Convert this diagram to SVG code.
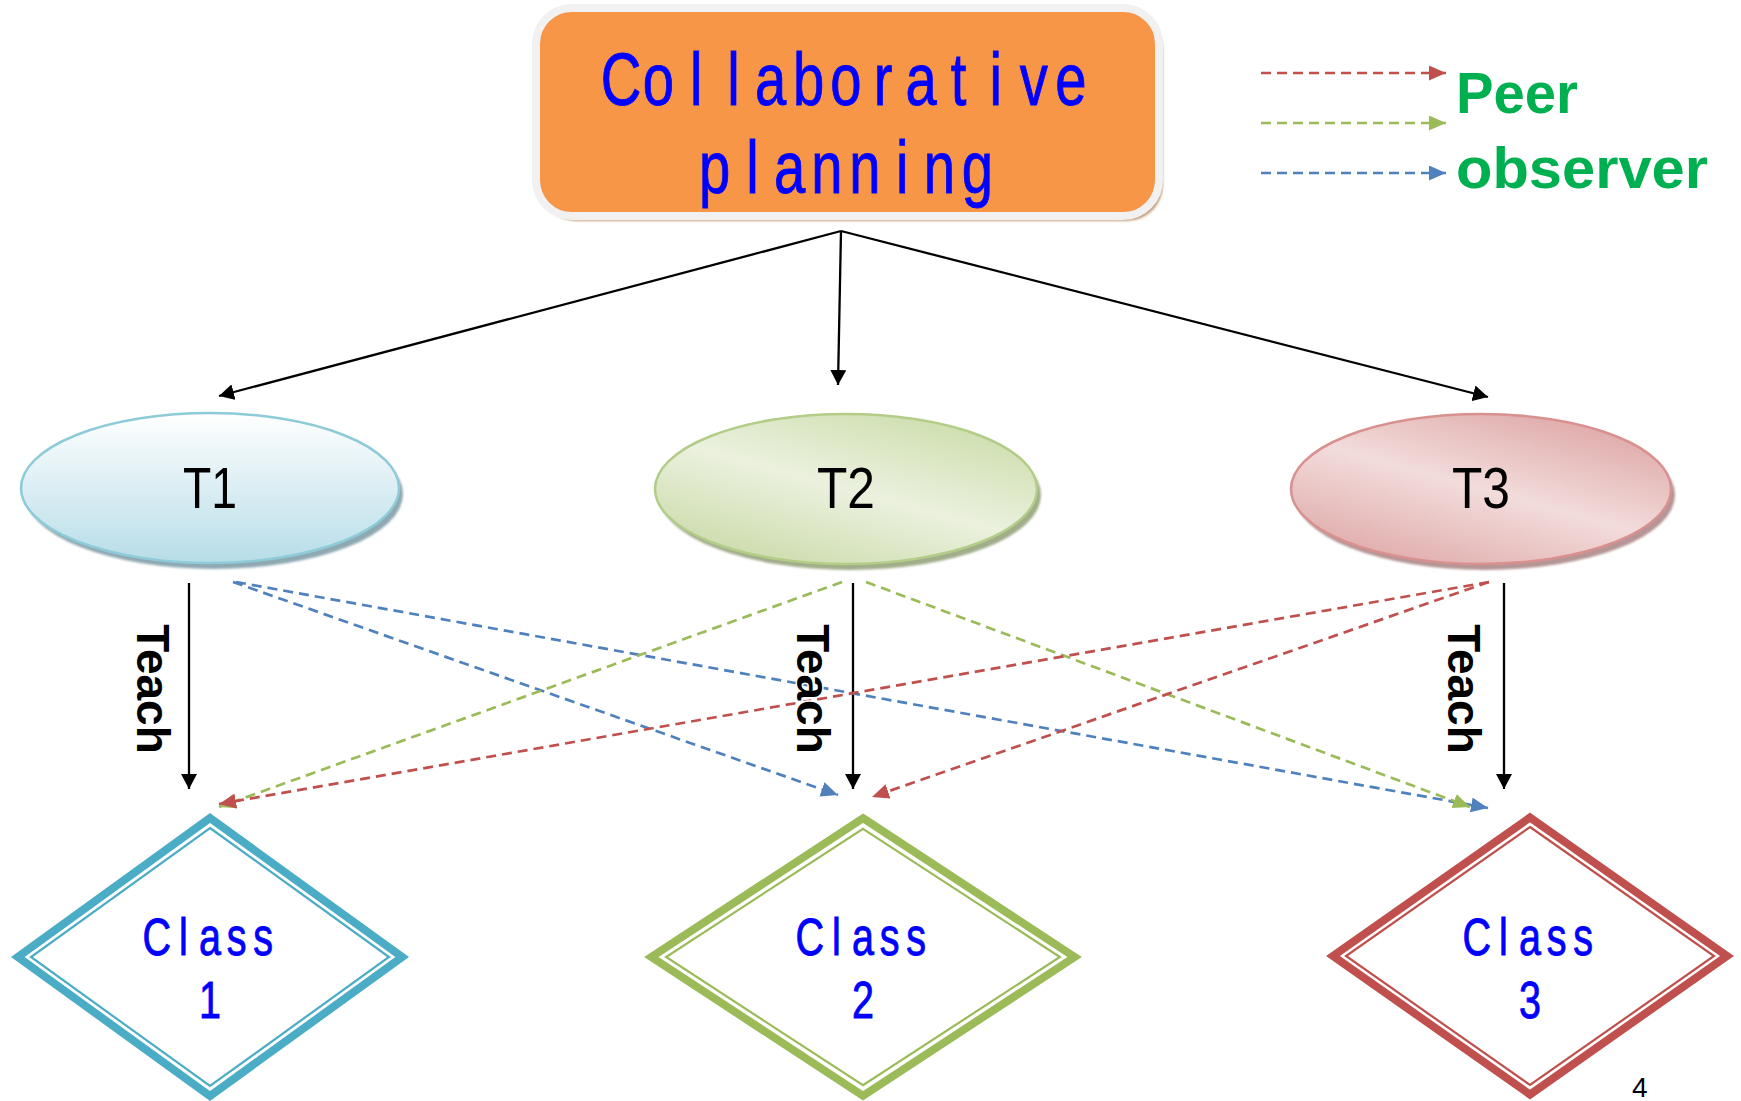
<svg xmlns="http://www.w3.org/2000/svg" width="1741" height="1101" viewBox="0 0 1741 1101">
  <style>
    .mono { font-family: "Liberation Sans", Arial, sans-serif; fill: #0000FF; stroke: #0000FF; stroke-width: 0.9px; text-anchor: middle; }
    .tlabel { font-family: "Liberation Sans", Arial, sans-serif; font-size: 58px; fill: #000; text-anchor: middle; }
    .teach { font-family: "Liberation Sans", Arial, sans-serif; font-weight: bold; font-size: 46px; fill: #000; text-anchor: middle; stroke: #fff; stroke-width: 3px; paint-order: stroke; }
    .legend { font-family: "Liberation Sans", Arial, sans-serif; font-weight: bold; font-size: 58px; fill: #00B050; }
    .solid { stroke: #000; stroke-width: 2.3; fill: none; }
    .dash { stroke-width: 2.7; fill: none; stroke-dasharray: 10 6; }
    .red { stroke: #C0504D; }
    .green { stroke: #9BBB59; }
    .blue { stroke: #4F81BD; }
  </style>
  <defs>
    <marker id="ahBlack" markerUnits="userSpaceOnUse" markerWidth="16" markerHeight="16" refX="15" refY="8" orient="auto">
      <path d="M0,0 L15,8 L0,16 z" fill="#000"/>
    </marker>
    <marker id="ahRed" markerUnits="userSpaceOnUse" markerWidth="18" markerHeight="16" refX="17" refY="7.5" orient="auto">
      <path d="M0,0 L17,7.5 L0,15 z" fill="#C0504D"/>
    </marker>
    <marker id="ahGreen" markerUnits="userSpaceOnUse" markerWidth="18" markerHeight="16" refX="17" refY="7.5" orient="auto">
      <path d="M0,0 L17,7.5 L0,15 z" fill="#9BBB59"/>
    </marker>
    <marker id="ahBlue" markerUnits="userSpaceOnUse" markerWidth="18" markerHeight="16" refX="17" refY="7.5" orient="auto">
      <path d="M0,0 L17,7.5 L0,15 z" fill="#4F81BD"/>
    </marker>
    <linearGradient id="gT1" x1="0" y1="0" x2="0" y2="1">
      <stop offset="0" stop-color="#ffffff"/>
      <stop offset="1" stop-color="#b7dde8"/>
    </linearGradient>
    <linearGradient id="gT2" x1="0.85" y1="0" x2="0.15" y2="1">
      <stop offset="0" stop-color="#cadca8"/>
      <stop offset="0.5" stop-color="#ebf1de"/>
      <stop offset="1" stop-color="#c9d9a6"/>
    </linearGradient>
    <linearGradient id="gT3" x1="0.85" y1="0" x2="0.15" y2="1">
      <stop offset="0" stop-color="#dca3a2"/>
      <stop offset="0.5" stop-color="#f2dcdb"/>
      <stop offset="1" stop-color="#dea7a6"/>
    </linearGradient>
    <filter id="soft" x="-10%" y="-10%" width="120%" height="120%">
      <feGaussianBlur stdDeviation="1.2"/>
    </filter>
  </defs>

  <!-- planning box -->
  <g id="planning">
    <rect x="540" y="13" width="623" height="208" rx="36" fill="#c9a27f" filter="url(#soft)"/>
    <rect x="536" y="8" width="623" height="208" rx="36" fill="#F79646" stroke="#f1f1f1" stroke-width="8"/>
    <text class="mono" font-size="74" transform="translate(846 105) scale(0.76 1)" x="-296 -247 -197 -148 -99 -49 0 49 99 148 197 247 296" y="0">Collaborative</text>
    <text class="mono" font-size="74" transform="translate(846 193) scale(0.76 1)" x="-173 -123 -74 -25 25 74 123 173" y="0">planning</text>
  </g>

  <!-- legend -->
  <g id="legend">
    <line class="dash red" x1="1261" y1="73" x2="1446" y2="73" marker-end="url(#ahRed)"/>
    <line class="dash green" x1="1261" y1="123" x2="1446" y2="123" marker-end="url(#ahGreen)"/>
    <line class="dash blue" x1="1261" y1="173" x2="1446" y2="173" marker-end="url(#ahBlue)"/>
    <text class="legend" x="1456" y="113" textLength="122" lengthAdjust="spacingAndGlyphs">Peer</text>
    <text class="legend" x="1456" y="188" textLength="252" lengthAdjust="spacingAndGlyphs">observer</text>
  </g>

  <!-- teachers -->
  <g id="T1">
    <ellipse cx="214" cy="494" rx="189" ry="75" fill="#8fa9b2" filter="url(#soft)"/>
    <ellipse cx="210" cy="488" rx="189" ry="75" fill="url(#gT1)" stroke="#8ecbd8" stroke-width="2.5"/>
    <text class="tlabel" x="210" y="508" textLength="54" lengthAdjust="spacingAndGlyphs">T1</text>
  </g>
  <g id="T2">
    <ellipse cx="850" cy="495" rx="191" ry="75" fill="#a2ad8a" filter="url(#soft)"/>
    <ellipse cx="846" cy="489" rx="191" ry="75" fill="url(#gT2)" stroke="#b3cd88" stroke-width="2.5"/>
    <text class="tlabel" x="846" y="508" textLength="58" lengthAdjust="spacingAndGlyphs">T2</text>
  </g>
  <g id="T3">
    <ellipse cx="1485" cy="495" rx="190" ry="75" fill="#b59595" filter="url(#soft)"/>
    <ellipse cx="1481" cy="489" rx="190" ry="75" fill="url(#gT3)" stroke="#d8918f" stroke-width="2.5"/>
    <text class="tlabel" x="1481" y="508" textLength="58" lengthAdjust="spacingAndGlyphs">T3</text>
  </g>

  <!-- classes: thick outer line plus thin inner line -->
  <g id="Class1">
    <polygon points="210,818 402.2,957 210,1096 17.8,957" fill="#fff" stroke="#4BACC6" stroke-width="8"/>
    <polygon points="210,828 389,957 210,1086 31,957" fill="none" stroke="#4BACC6" stroke-width="2.2"/>
    <text class="mono" font-size="52" transform="translate(210 955) scale(0.76 1)" x="-70 -35 0 35 70" y="0">Class</text>
    <text class="mono" font-size="52" transform="translate(210 1018) scale(0.76 1)" x="0" y="0">1</text>
  </g>
  <g id="Class2">
    <polygon points="863,818.2 1074.6,957 863,1095.8 651.4,957" fill="#fff" stroke="#9BBB59" stroke-width="8"/>
    <polygon points="863,828.8 1059.9,957 863,1085.2 666.1,957" fill="none" stroke="#9BBB59" stroke-width="2.2"/>
    <text class="mono" font-size="52" transform="translate(863 955) scale(0.76 1)" x="-70 -35 0 35 70" y="0">Class</text>
    <text class="mono" font-size="52" transform="translate(863 1018) scale(0.76 1)" x="0" y="0">2</text>
  </g>
  <g id="Class3">
    <polygon points="1530,817.5 1727,956 1530,1094.5 1333,956" fill="#fff" stroke="#C0504D" stroke-width="8"/>
    <polygon points="1530,827 1714,956 1530,1085 1346,956" fill="none" stroke="#C0504D" stroke-width="2.2"/>
    <text class="mono" font-size="52" transform="translate(1530 955) scale(0.76 1)" x="-70 -35 0 35 70" y="0">Class</text>
    <text class="mono" font-size="52" transform="translate(1530 1018) scale(0.76 1)" x="0" y="0">3</text>
  </g>

  <!-- connectors -->
  <g id="connectors">
    <line class="solid" x1="841" y1="231" x2="219" y2="396" marker-end="url(#ahBlack)"/>
    <line class="solid" x1="841" y1="231" x2="838" y2="385" marker-end="url(#ahBlack)"/>
    <line class="solid" x1="841" y1="231" x2="1488" y2="397" marker-end="url(#ahBlack)"/>

    <line class="solid" x1="189" y1="583" x2="189" y2="789" marker-end="url(#ahBlack)"/>
    <line class="solid" x1="853" y1="583" x2="853" y2="789" marker-end="url(#ahBlack)"/>
    <line class="solid" x1="1504" y1="583" x2="1504" y2="789" marker-end="url(#ahBlack)"/>

    <line class="dash blue" x1="233" y1="582" x2="838" y2="795" marker-end="url(#ahBlue)"/>
    <line class="dash blue" x1="236" y1="582" x2="1488" y2="808" marker-end="url(#ahBlue)"/>
    <line class="dash green" x1="842" y1="582" x2="219" y2="807" marker-end="url(#ahGreen)"/>
    <line class="dash green" x1="866" y1="582" x2="1470" y2="807" marker-end="url(#ahGreen)"/>
    <line class="dash red" x1="1489" y1="582" x2="219" y2="804" marker-end="url(#ahRed)"/>
    <line class="dash red" x1="1489" y1="582" x2="872" y2="797" marker-end="url(#ahRed)"/>

    <text class="teach" transform="translate(137 689) rotate(90)" x="0" y="0">Teach</text>
    <text class="teach" transform="translate(797 689) rotate(90)" x="0" y="0">Teach</text>
    <text class="teach" transform="translate(1448 689) rotate(90)" x="0" y="0">Teach</text>
  </g>

  <!-- page number -->
  <text x="1632" y="1097" font-family="Liberation Sans, Arial, sans-serif" font-size="28" fill="#000">4</text>
</svg>
